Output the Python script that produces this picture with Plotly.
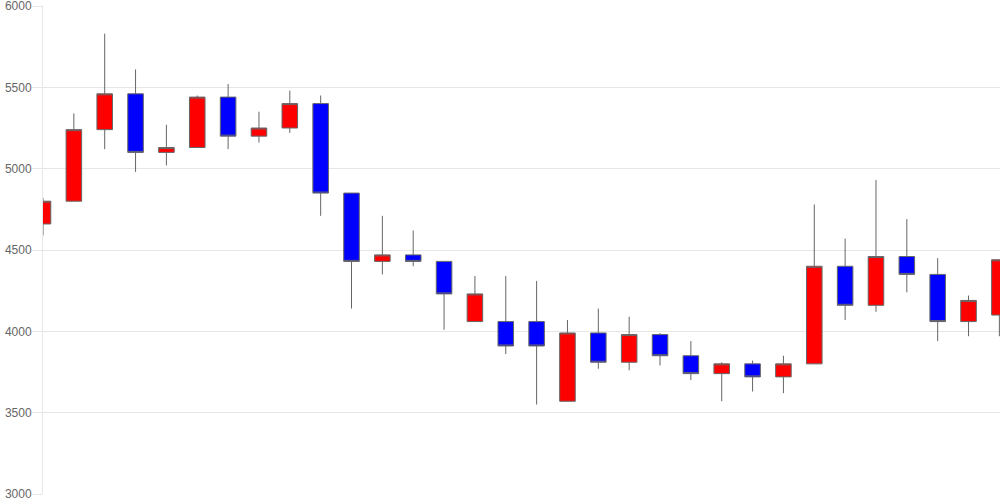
import plotly.graph_objects as go

days = list(range(32))
open_ = [4660, 4800, 5240, 5460, 5100, 5130, 5440, 5200, 5250, 5400,
         4850, 4430, 4470, 4430, 4060, 4060, 4060, 3570, 3990, 3810,
         3980, 3850, 3740, 3800, 3720, 3800, 4400, 4160, 4460, 4350,
         4060, 4100]
high = [4820, 5340, 5830, 5610, 5270, 5450, 5520, 5350, 5480, 5450,
        4850, 4710, 4620, 4430, 4340, 4340, 4310, 4070, 4140, 4090,
        3990, 3940, 3810, 3820, 3850, 4780, 4570, 4930, 4690, 4450,
        4220, 4440]
low = [4590, 4800, 5120, 4980, 5020, 5130, 5120, 5160, 5220, 4710,
       4140, 4350, 4400, 4010, 4060, 3860, 3550, 3570, 3770, 3760,
       3790, 3700, 3570, 3630, 3620, 3800, 4070, 4120, 4240, 3940,
       3970, 3970]
close = [4800, 5240, 5460, 5100, 5130, 5440, 5200, 5250, 5400, 4850,
         4430, 4470, 4430, 4230, 4230, 3910, 3910, 3990, 3810, 3980,
         3850, 3740, 3800, 3720, 3800, 4400, 4160, 4460, 4350, 4060,
         4190, 4440]

y_ticks = [3000, 3500, 4000, 4500, 5000, 5500, 6000]

fig = go.Figure(go.Candlestick(
    x=days, open=open_, high=high, low=low, close=close,
    increasing=dict(fillcolor="#ff0000", line=dict(color="#666666", width=1)),
    decreasing=dict(fillcolor="#0000ff", line=dict(color="#666666", width=1)),
    whiskerwidth=0,
    showlegend=False,
))

fig.update_layout(
    width=1000, height=500,
    margin=dict(l=43, r=0, t=6, b=6, autoexpand=False),
    paper_bgcolor="white", plot_bgcolor="white",
    boxgap=0.28,
    font=dict(family="Liberation Sans, Arial, sans-serif", size=12, color="#666666"),
    xaxis=dict(range=[0, 31.02], showgrid=False, zeroline=False,
               showticklabels=False, ticks="", rangeslider=dict(visible=False),
               showline=False, automargin=False),
    yaxis=dict(range=[3000, 6000], tickvals=y_ticks,
               ticktext=[str(v) for v in y_ticks],
               showgrid=True, gridcolor="#e6e6e6", gridwidth=1,
               zeroline=False, showline=True, linecolor="#e6e6e6", linewidth=1,
               ticks="outside", ticklen=10, tickcolor="#e6e6e6",
               ticklabelstandoff=-2,
               automargin=False, ticklabeloverflow="allow",
               tickfont=dict(size=12, color="#666666")),
)

fig.write_html("out.html", config={"displayModeBar": False},
               post_script="document.body.style.margin='0';")
